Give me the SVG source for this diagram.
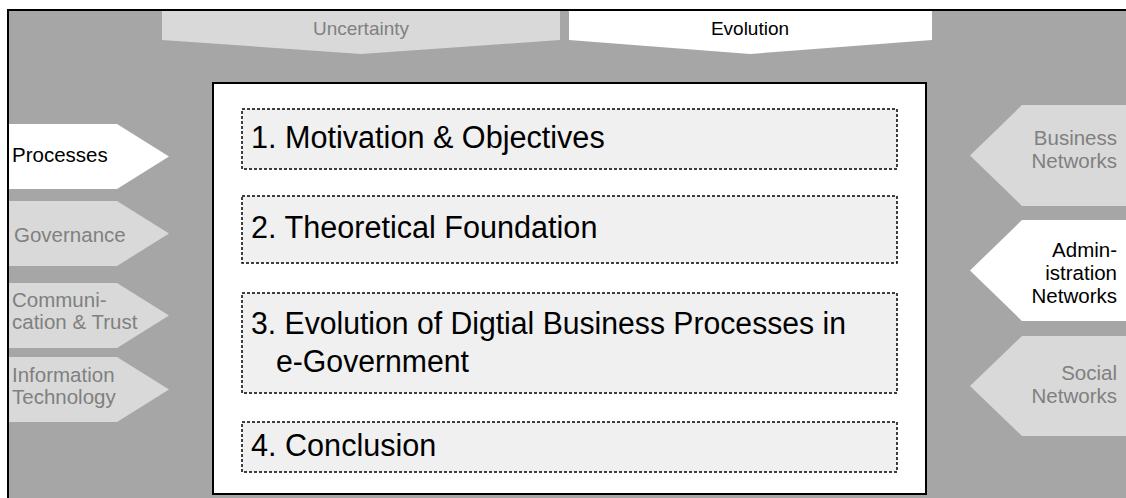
<svg xmlns="http://www.w3.org/2000/svg" width="1126" height="498" viewBox="0 0 1126 498">
<style>
  text { font-family: "Liberation Sans", Arial, sans-serif; }
  .side { font-size: 20.5px; fill: #808080; }
  .banner { font-size: 19px; fill: #808080; }
  text.on { fill: #000000; }
  .light { fill: #d9d9d9; }
  .white { fill: #ffffff; }
  .sec { fill: #f0f0f0; stroke: #000000; stroke-width: 1.5; stroke-dasharray: 3 2; }
  .sectext { font-size: 30.6px; fill: #000000; }
</style>
<g id="frame">
  <rect x="8" y="10" width="1130" height="500" fill="#a6a6a6" stroke="#000000" stroke-width="2"/>
</g>
<g id="uncertainty">
  <polygon class="light" points="162,11 560,11 560,40 361,54 162,40"/>
  <text class="banner" x="361" y="35" text-anchor="middle">Uncertainty</text>
</g>
<g id="evolution">
  <polygon class="white" points="569,11 932,11 932,40 750,54 569,40"/>
  <text class="banner on" x="750" y="35" text-anchor="middle">Evolution</text>
</g>
<g id="main">
  <rect x="213" y="83" width="713" height="411" fill="#ffffff" stroke="#000000" stroke-width="2"/>
</g>
<g id="sec1">
  <rect class="sec" x="242" y="109" width="655" height="60"/>
  <text class="sectext" x="251" y="148">1. Motivation &amp; Objectives</text>
</g>
<g id="sec2">
  <rect class="sec" x="242" y="196" width="655" height="67"/>
  <text class="sectext" x="251" y="238">2. Theoretical Foundation</text>
</g>
<g id="sec3">
  <rect class="sec" x="242" y="293" width="655" height="100"/>
  <text class="sectext" x="251" y="334" textLength="595" lengthAdjust="spacingAndGlyphs">3. Evolution of Digtial Business Processes in</text>
  <text class="sectext" x="276" y="372" textLength="193" lengthAdjust="spacingAndGlyphs">e-Government</text>
</g>
<g id="sec4">
  <rect class="sec" x="242" y="422" width="655" height="50"/>
  <text class="sectext" x="251" y="456">4. Conclusion</text>
</g>
<g id="processes">
  <polygon class="white" points="9,124 117,124 169,156.5 117,189 9,189"/>
  <text class="side on" x="12" y="162">Processes</text>
</g>
<g id="governance">
  <polygon class="light" points="9,201 117,201 169,233.5 117,266 9,266"/>
  <text class="side" x="14" y="242">Governance</text>
</g>
<g id="communication">
  <polygon class="light" points="9,283 117,283 169,315.5 117,348 9,348"/>
  <text class="side" x="12" y="307">Communi-</text>
  <text class="side" x="12" y="329">cation &amp; Trust</text>
</g>
<g id="it">
  <polygon class="light" points="9,357 117,357 169,389.5 117,422 9,422"/>
  <text class="side" x="12" y="382">Information</text>
  <text class="side" x="12" y="404">Technology</text>
</g>
<g id="business">
  <polygon class="light" points="1126,105 1022,105 970,155.5 1022,206 1126,206"/>
  <text class="side" x="1117" y="145" text-anchor="end">Business</text>
  <text class="side" x="1117" y="168" text-anchor="end">Networks</text>
</g>
<g id="administration">
  <polygon class="white" points="1126,220 1022,220 970,270.5 1022,321 1126,321"/>
  <text class="side on" x="1117" y="257" text-anchor="end">Admin-</text>
  <text class="side on" x="1117" y="280" text-anchor="end">istration</text>
  <text class="side on" x="1117" y="303" text-anchor="end">Networks</text>
</g>
<g id="social">
  <polygon class="light" points="1126,336 1022,336 970,386 1022,436 1126,436"/>
  <text class="side" x="1117" y="380" text-anchor="end">Social</text>
  <text class="side" x="1117" y="403" text-anchor="end">Networks</text>
</g>
<g id="connectors"></g>
</svg>
